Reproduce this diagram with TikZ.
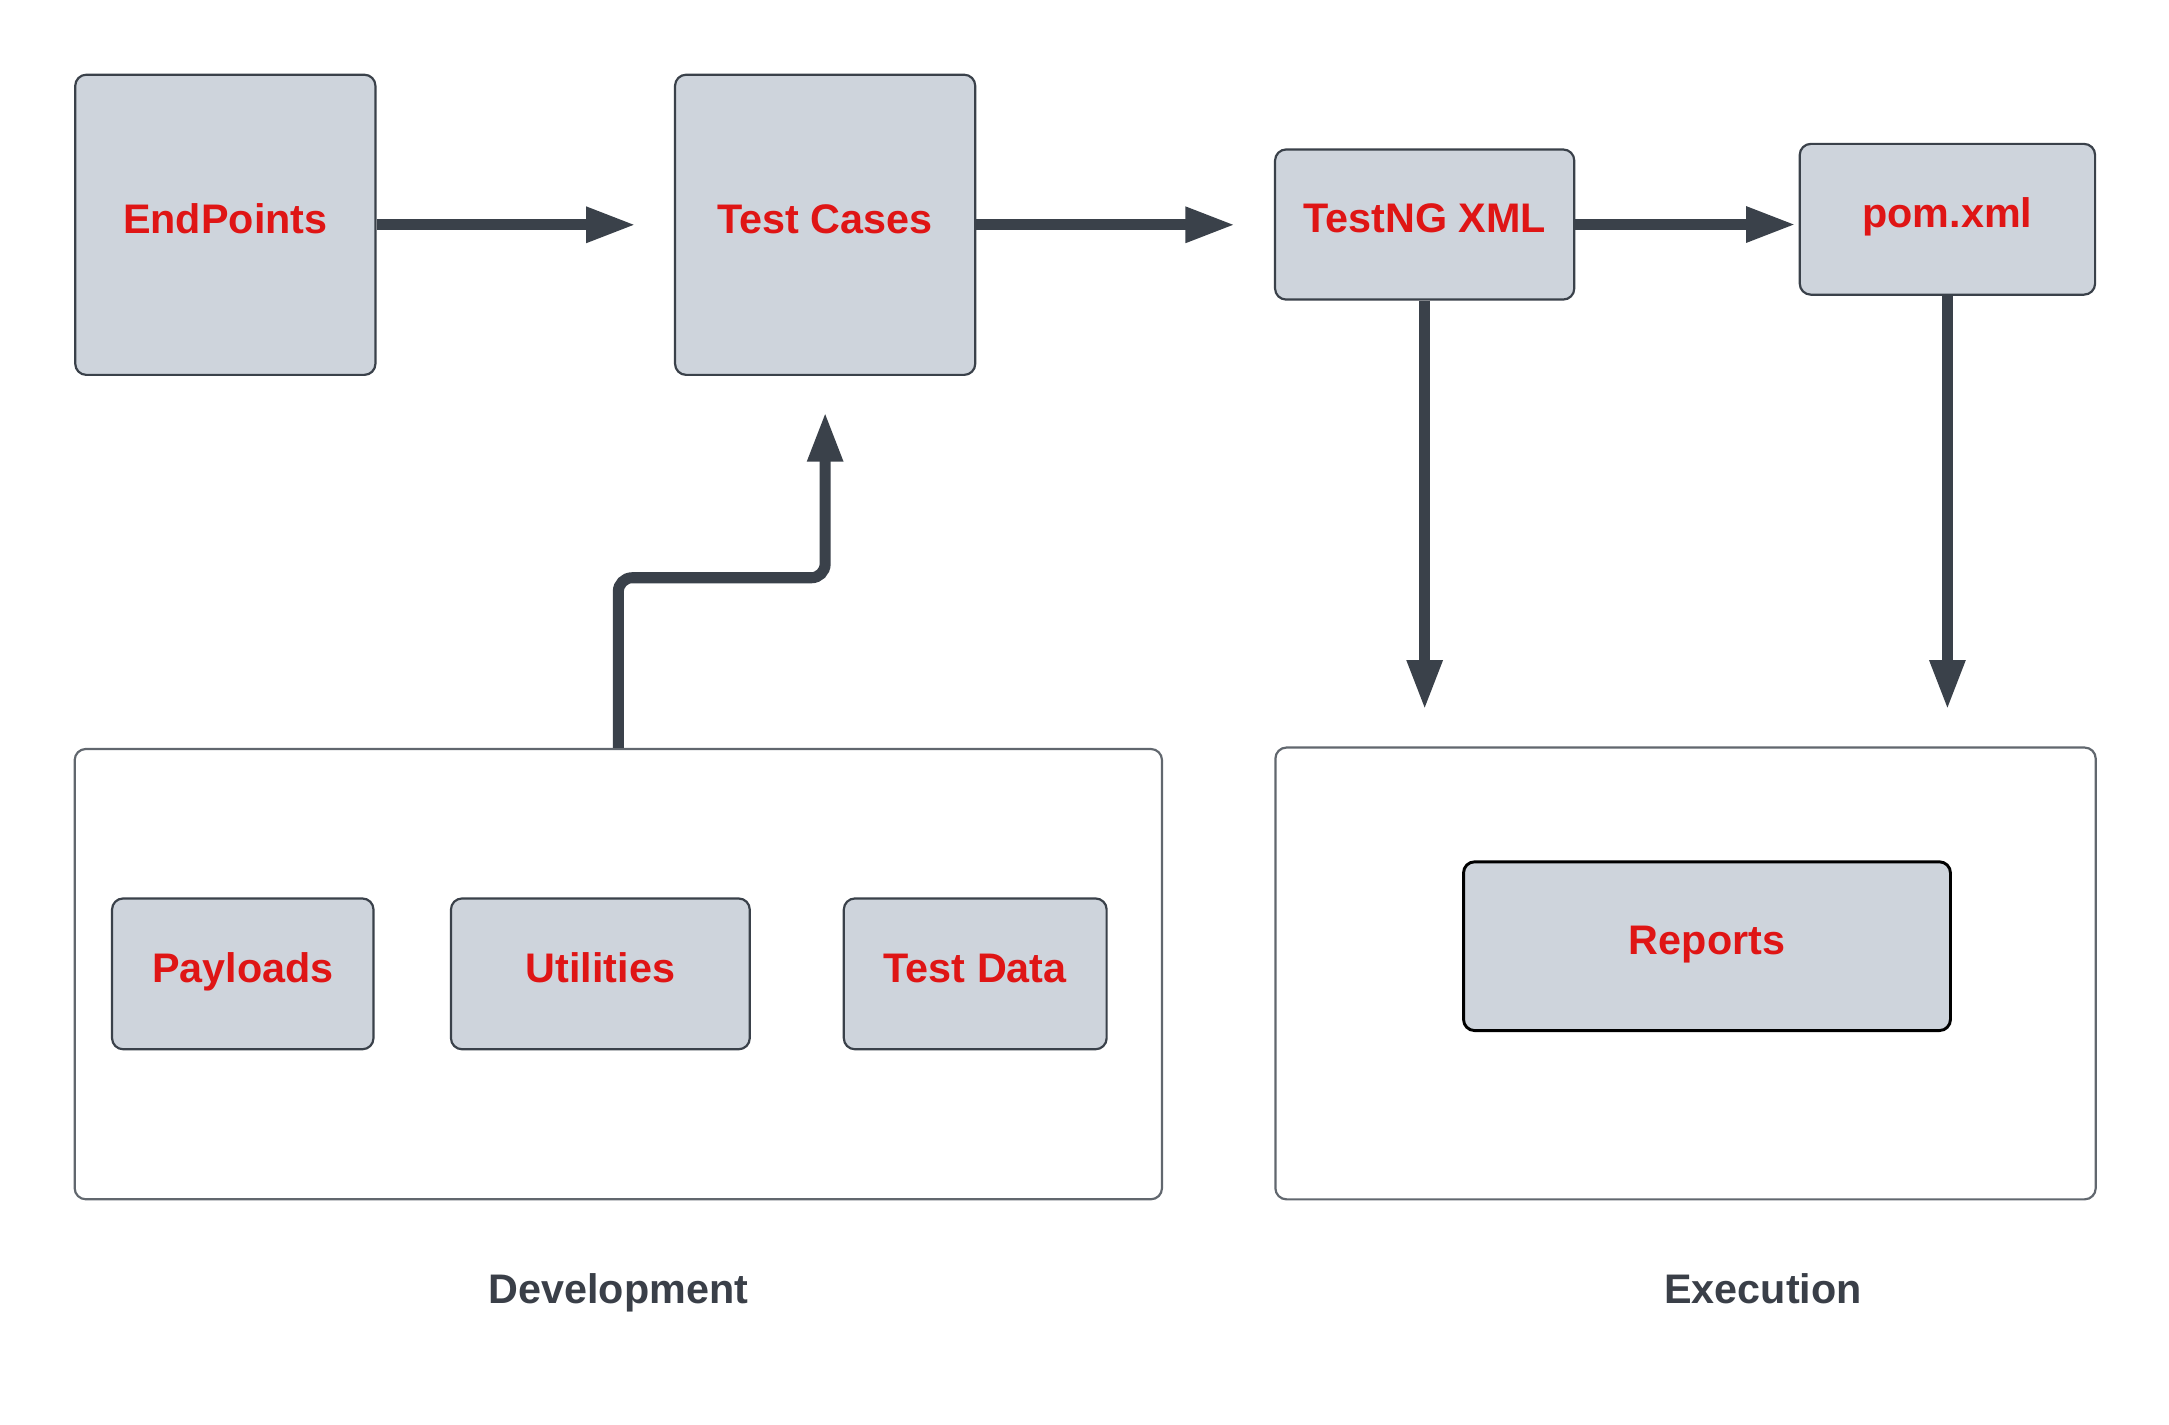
\documentclass[tikz,border=0pt]{standalone}
\usepackage{fontspec}
\setmainfont{Liberation Sans}
\usetikzlibrary{arrows.meta}
\definecolor{boxfill}{HTML}{CED4DC}
\definecolor{boxline}{HTML}{3A414A}
\definecolor{boxtext}{HTML}{DF1515}
\definecolor{flowline}{HTML}{3A414A}
\definecolor{phasetext}{HTML}{3A3F48}

\begin{document}
\begin{tikzpicture}[
	box/.style={draw=boxline, line width=0.45pt, fill=boxfill, rounded corners=0.08cm, inner sep=0pt,
		text=boxtext, font=\fontsize{8.5}{10}\selectfont\bfseries, text height=0.22cm, text depth=0.1cm},
	area/.style={draw=boxline!80, line width=0.45pt, rounded corners=0.08cm, inner sep=0pt},
	phase/.style={text=phasetext, font=\fontsize{8.5}{10}\selectfont\bfseries, text height=0.22cm, text depth=0.08cm},
	flow/.style={draw=flowline, line width=0.08cm, -{Triangle[length=3.6mm,width=2.4mm]}}
]
\useasboundingbox (0,0) rectangle (15.68,-10.30);
%containers
\node[area, minimum width=7.86cm, minimum height=3.255cm] (dev) at (4.47,-7.042) {};
\node[area, minimum width=5.93cm, minimum height=3.266cm] (exec) at (12.185,-7.037) {};
%top row
\node[box, minimum width=2.17cm, minimum height=2.17cm] (endpoints) at (1.629,-1.625) {EndPoints};
\node[box, minimum width=2.17cm, minimum height=2.17cm] (testcases) at (5.965,-1.625) {Test Cases};
\node[box, minimum width=2.163cm, minimum height=1.085cm] (testng) at (10.299,-1.623) {TestNG XML};
\node[box, minimum width=2.135cm, minimum height=1.09cm] (pom) at (14.078,-1.585) {pom.xml};
%development parts
\foreach \n/\x/\w/\t in {payloads/1.755/1.89/Payloads, utilities/4.34/2.16/Utilities, testdata/7.05/1.9/Test Data}{
	\node[box, minimum width=\w cm, minimum height=1.09cm] (\n) at (\x,-7.04) {\t};
	}
%execution part
\node[box, draw=black, line width=0.6pt, minimum width=3.52cm, minimum height=1.22cm] (reports) at (12.34,-6.84) {Reports};
%phase labels
\node[phase] (devlabel) at (4.47,-9.35) {Development};
\node[phase] (execlabel) at (12.745,-9.35) {Execution};
%arrows
\draw[flow, shorten >=0.275cm] (endpoints.east) -- (testcases.west);
\draw[flow, shorten >=0.28cm] (testcases.east) -- (testcases.east -| testng.west);
\draw[flow, shorten >=0.02cm] (testng.east) -- (testng.east -| pom.west);
\draw[flow, shorten >=0.265cm] (testng.south) -- (testng.south |- exec.north);
\draw[flow, shorten >=0.265cm] (pom.south) -- (pom.south |- exec.north);
\draw[flow, rounded corners=0.1cm, shorten >=0.26cm] (dev.north) -- ++(0,1.23) -| (testcases.south);
\end{tikzpicture}
\end{document}
